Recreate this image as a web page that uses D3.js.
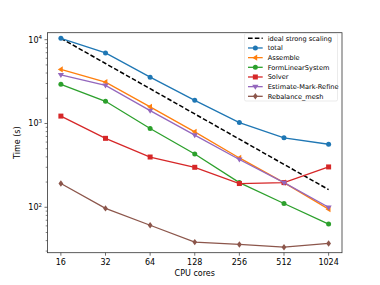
<!DOCTYPE html>
<html>
<head>
<meta charset="utf-8">
<script src="https://cdn.jsdelivr.net/npm/d3@7"></script>
<style>
  body { margin: 0; background: #fff; }
  text { font-family: "DejaVu Sans", sans-serif; fill: #000; }
</style>
</head>
<body>
<div id="chart"></div>
<script>
// CPU core counts and timings (seconds)
const cores = [16, 32, 64, 128, 256, 512, 1024];
const coreLabels = ["16", "32", "64", "128", "256", "512", "1024"];

const ideal = [10400, 5200, 2600, 1300, 650, 325, 162.5];
const total = [10400, 6950, 3570, 1890, 1025, 675, 565];
const assemble = [4420, 3120, 1580, 795, 388, 197, 95];
const formLinear = [2930, 1840, 870, 432, 197, 111, 63];
const solver = [1225, 665, 398, 300, 192, 197, 303];
const estimate = [3810, 2850, 1425, 727, 372, 197, 100];
const rebalance = [192, 97, 61, 38.4, 36, 33.4, 37];

const yTicks = [100, 1000, 10000];
const yTickExp = ["2", "3", "4"];

const series = [
  { name: "total", values: total, color: "#1f77b4", marker: "circle" },
  { name: "Assemble", values: assemble, color: "#ff7f0e", marker: "left" },
  { name: "FormLinearSystem", values: formLinear, color: "#2ca02c", marker: "circle" },
  { name: "Solver", values: solver, color: "#d62728", marker: "square" },
  { name: "Estimate-Mark-Refine", values: estimate, color: "#9467bd", marker: "down" },
  { name: "Rebalance_mesh", values: rebalance, color: "#8c564b", marker: "diamond" }
];

const W = 380, H = 285;
const margin = { top: 32.7, right: 38, bottom: 32.3, left: 47.5 };
const width = W - margin.left - margin.right,
  height = H - margin.top - margin.bottom;

const svg = d3.select("#chart")
  .append("svg")
  .attr("width", W)
  .attr("height", H);

const g = svg.append("g")
  .attr("transform", `translate(${margin.left},${margin.top})`);

// x: log2 with 5% padding like matplotlib
const x = d3.scaleLog().base(2)
  .domain([16 / Math.pow(2, 0.3), 1024 * Math.pow(2, 0.3)])
  .range([0, width]);

const y = d3.scaleLog()
  .domain([28.7, 12120])
  .range([height, 0]);

// minor y ticks
const minor = [];
[10, 100, 1000, 10000].forEach(d => {
  for (let k = 2; k <= 9; k++) {
    const v = d * k;
    if (v > y.domain()[0] && v < y.domain()[1]) minor.push(v);
  }
});
g.selectAll(".minor")
  .data(minor)
  .join("line")
  .attr("x1", -1.8).attr("x2", 0)
  .attr("y1", d => y(d)).attr("y2", d => y(d))
  .attr("stroke", "#333").attr("stroke-width", 0.6);

// major y ticks
g.selectAll(".ytick")
  .data(yTicks)
  .join("line")
  .attr("x1", -3).attr("x2", 0)
  .attr("y1", d => y(d)).attr("y2", d => y(d))
  .attr("stroke", "#333").attr("stroke-width", 0.7);

const yl = g.selectAll(".ylab")
  .data(yTicks)
  .join("text")
  .attr("x", -5.5)
  .attr("y", d => y(d) + 3)
  .attr("text-anchor", "end")
  .style("font-size", "8px");
yl.append("tspan").text("10");
yl.append("tspan")
  .attr("dy", -3.5)
  .style("font-size", "5.5px")
  .text((d, i) => yTickExp[i]);

// x ticks
g.selectAll(".xtick")
  .data(cores)
  .join("line")
  .attr("x1", d => x(d)).attr("x2", d => x(d))
  .attr("y1", height).attr("y2", height + 3)
  .attr("stroke", "#333").attr("stroke-width", 0.7);

g.selectAll(".xlab")
  .data(cores)
  .join("text")
  .attr("x", d => x(d))
  .attr("y", height + 12.5)
  .attr("text-anchor", "middle")
  .style("font-size", "8px")
  .text((d, i) => coreLabels[i]);

// axis labels
svg.append("text")
  .attr("x", margin.left + width / 2)
  .attr("y", 276)
  .attr("text-anchor", "middle")
  .style("font-size", "8px")
  .text("CPU cores");

svg.append("text")
  .attr("transform", `translate(20,${margin.top + height / 2}) rotate(-90)`)
  .attr("text-anchor", "middle")
  .style("font-size", "8px")
  .text("Time (s)");

// lines
const line = d3.line()
  .x((d, i) => x(cores[i]))
  .y(d => y(d));

g.append("path")
  .datum(ideal)
  .attr("d", line)
  .attr("fill", "none")
  .attr("stroke", "#000")
  .attr("stroke-width", 1.5)
  .attr("stroke-dasharray", "4.6,2.2");

function drawMarker(sel, type, color) {
  const s = 2.5;
  if (type === "circle") {
    sel.append("circle").attr("r", s).attr("fill", color);
  } else if (type === "square") {
    sel.append("rect").attr("x", -s).attr("y", -s)
      .attr("width", 2 * s).attr("height", 2 * s).attr("fill", color);
  } else if (type === "diamond") {
    const r = 3.2;
    sel.append("path").attr("d", `M0,${-r}L${r * 0.75},0L0,${r}L${-r * 0.75},0Z`).attr("fill", color);
  } else if (type === "left") {
    const r = 3.1;
    sel.append("path").attr("d", `M${-r},0L${r * 0.6},${-r}L${r * 0.6},${r}Z`).attr("fill", color);
  } else if (type === "down") {
    const r = 3.1;
    sel.append("path").attr("d", `M0,${r}L${-r},${-r * 0.6}L${r},${-r * 0.6}Z`).attr("fill", color);
  }
}

series.forEach(s => {
  g.append("path")
    .datum(s.values)
    .attr("d", line)
    .attr("fill", "none")
    .attr("stroke", s.color)
    .attr("stroke-width", 1.3);
  g.selectAll(null)
    .data(s.values)
    .join("g")
    .attr("transform", (d, i) => `translate(${x(cores[i])},${y(d)})`)
    .each(function () { drawMarker(d3.select(this), s.marker, s.color); });
});

// frame
g.append("rect")
  .attr("width", width).attr("height", height)
  .attr("fill", "none")
  .attr("stroke", "#333").attr("stroke-width", 0.8);

// legend
const legend = svg.append("g");
legend.append("rect")
  .attr("x", 244.5).attr("y", 33.5)
  .attr("width", 93).attr("height", 67.5)
  .attr("rx", 1.5)
  .attr("fill", "#fff").attr("fill-opacity", 0.8)
  .attr("stroke", "#ddd").attr("stroke-width", 0.6);

const legendItems = [{ name: "ideal strong scaling", color: "#000", marker: null }].concat(series);
const li = legend.selectAll(".li")
  .data(legendItems)
  .join("g")
  .attr("transform", (d, i) => `translate(248,${38.3 + i * 9.67})`);
li.append("line")
  .attr("x1", 0).attr("x2", 14.7)
  .attr("stroke", d => d.color)
  .attr("stroke-width", (d, i) => i === 0 ? 1.5 : 1.3)
  .attr("stroke-dasharray", (d, i) => i === 0 ? "4.6,2.2" : null);
li.each(function (d) {
  if (d.marker) {
    const m = d3.select(this).append("g").attr("transform", "translate(7.35,0)");
    drawMarker(m, d.marker, d.color);
  }
});
li.append("text")
  .attr("x", 19.7)
  .attr("y", 2.4)
  .style("font-size", "6.6px")
  .text(d => d.name);
</script>
</body>
</html>
